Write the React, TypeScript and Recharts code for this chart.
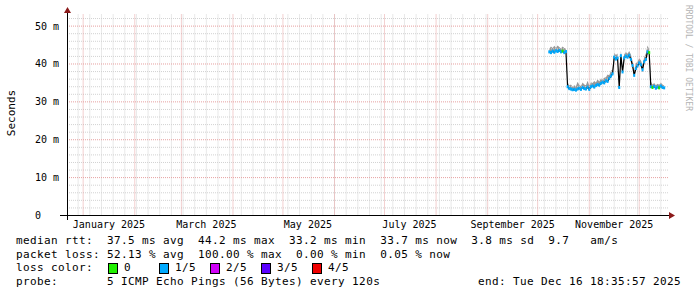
import React from "react";
import {
  Area,
  ComposedChart,
  Line,
  ReferenceLine,
  XAxis,
  YAxis,
} from "recharts";

// days counted from Jan 1 2025
const firstDay = 280;
const medianMs = [
  43.2, 43.0, 43.4, 43.1, 43.5, 43.3, 43.6, 43.2, 43.4, 43.0, 43.3,
  34.0, 33.5, 33.4, 33.2, 33.3, 33.1, 33.4, 33.6, 33.3, 33.8, 33.5, 33.4, 33.9, 33.3,
  34.0, 34.2, 33.9, 34.3, 34.6, 34.4, 34.9, 35.2, 35.0, 35.6, 35.4, 36.2, 36.8, 37.4,
  41.8, 41.3, 41.6, 33.8, 42.2, 37.9, 41.6, 42.1, 41.8, 42.3, 41.2, 39.6, 37.0, 38.8,
  39.5, 40.3, 39.8, 38.5, 40.6, 41.2, 43.2, 43.0,
  34.0, 33.8, 34.1, 33.6, 33.9, 33.7, 34.2, 33.8, 33.7,
];
const smokeHighMs = [
  44.0, 44.6, 44.2, 44.8, 44.3, 44.9, 44.5, 44.1, 44.6, 44.2, 44.0,
  35.2, 34.3, 34.6, 34.0, 34.4, 34.1, 35.3, 34.5, 34.2, 35.1, 34.6, 34.4, 35.6, 34.3,
  35.2, 35.0, 35.5, 35.1, 36.0, 35.4, 36.2, 36.0, 36.4, 36.5, 37.2, 37.0, 38.2, 38.5,
  43.0, 42.4, 42.8, 35.0, 43.5, 39.5, 42.6, 43.2, 42.7, 43.4, 42.5, 40.8, 38.2, 40.2,
  40.6, 41.5, 41.0, 39.8, 41.8, 42.8, 44.9, 43.9,
  35.4, 34.6, 35.0, 34.4, 34.8, 34.5, 35.1, 34.6, 34.3,
];
const smokeLowMs = [
  42.9, 42.7, 43.1, 42.8, 43.2, 43.0, 43.3, 42.9, 43.1, 42.7, 43.0,
  33.7, 33.2, 33.1, 32.9, 33.0, 32.8, 33.1, 33.3, 33.0, 33.5, 33.2, 33.1, 33.6, 33.0,
  33.7, 33.9, 33.6, 34.0, 34.3, 34.1, 34.6, 34.9, 34.7, 35.3, 35.1, 35.9, 36.5, 37.1,
  41.5, 41.0, 41.3, 33.5, 41.9, 37.6, 41.3, 41.8, 41.5, 42.0, 40.9, 39.3, 36.7, 38.5,
  39.2, 40.0, 39.5, 38.2, 40.3, 40.9, 42.9, 42.7,
  33.7, 33.5, 33.8, 33.3, 33.6, 33.4, 33.9, 33.5, 33.4,
];
// loss level per sample: 0 = no loss, 1 = 1/5 ...
const lossLevel = [
  1, 1, 1, 1, 1, 1, 1, 1, 0, 1, 1,
  1, 1, 1, 1, 1, 1, 1, 1, 1, 1, 1, 1, 1, 1,
  1, 1, 1, 1, 1, 1, 1, 1, 1, 1, 1, 1, 1, 1,
  1, 1, 1, 1, 1, 1, 1, 1, 1, 1, 1, 1, 1, 1,
  1, 1, 1, 1, 1, 1, 1, 0,
  1, 0, 1, 1, 1, 0, 1, 1, 1,
];
const lossColors = ["#20f000", "#00aaff", "#d000f8", "#5a00ff", "#f00000"];
const lossLabels = ["0", "1/5", "2/5", "3/5", "4/5"];

const monthStarts = [0, 31, 59, 90, 120, 151, 181, 212, 243, 273, 304, 334];
const weekLines = [-3, 4, 11, 18, 25, 32, 39, 46, 53, 60, 67, 74, 81, 88, 95, 102, 109, 116, 123, 130, 137, 144, 151, 158, 165, 172, 179, 186, 193, 200, 207, 214, 221, 228, 235, 242, 249, 256, 263, 270, 277, 284, 291, 298, 305, 312, 319, 326, 333, 340, 347];
const xLabelDays = [15.5, 74, 135, 196, 258, 319];
const xLabels = ["January 2025", "March 2025", "May 2025", "July 2025", "September 2025", "November 2025"];
const yMajor = [10, 20, 30, 40, 50];
const yMinor = [2, 4, 6, 8, 12, 14, 16, 18, 22, 24, 26, 28, 32, 34, 36, 38, 42, 44, 46, 48, 52];
const yTicks = [0, 10, 20, 30, 40, 50];
const yTickLabels = ["0", "10 m", "20 m", "30 m", "40 m", "50 m"];

const data = medianMs.map((m, i) => ({
  day: firstDay + i,
  median: m,
  smoke: [smokeLowMs[i], smokeHighMs[i]],
  loss: lossLevel[i],
}));

const mono = "'DejaVu Sans Mono', monospace";
const minorColor = "#d2d2d2";
const majorColor = "#e6a0a0";
const arrowColor = "#8b1a1a";

function LossDot(props: any) {
  const { cx, cy, index } = props;
  if (cx == null || cy == null) return null;
  return (
    <rect
      key={`d${index}`}
      x={cx - 1}
      y={cy - 1.5}
      width={2}
      height={3}
      fill={lossColors[lossLevel[index]]}
    />
  );
}

function XTick(props: any) {
  const { x, payload } = props;
  const i = xLabelDays.indexOf(payload.value);
  return (
    <text x={x} y={224} textAnchor="middle" dominantBaseline="central" fontFamily={mono} fontSize={10} fill="#000" stroke="none">
      {xLabels[i]}
    </text>
  );
}

function YTick(props: any) {
  const { y, payload } = props;
  const i = yTicks.indexOf(payload.value);
  return (
    <text x={35} y={y} textAnchor="start" dominantBaseline="central" fontFamily={mono} fontSize={10} fill="#000" stroke="none">
      {yTickLabels[i]}
    </text>
  );
}

const legendRows = [
  "median rtt:  37.5 ms avg  44.2 ms max  33.2 ms min  33.7 ms now  3.8 ms sd  9.7   am/s",
  "packet loss: 52.13 % avg  100.00 % max  0.00 % min  0.05 % now",
];

const textStyle: React.CSSProperties = {
  position: "absolute",
  fontFamily: mono,
  fontSize: 11,
  letterSpacing: 0.38,
  lineHeight: "14px",
  whiteSpace: "pre",
  color: "#000",
};

export default function App() {
  return (
    <div style={{ position: "absolute", left: 0, top: 0, width: 697, height: 297, background: "#fff" }}>
      <ComposedChart
        width={697}
        height={297}
        data={data}
        margin={{ top: 14, right: 29, left: 17, bottom: 61.5 }}
      >
        <XAxis
          dataKey="day"
          type="number"
          domain={[-9.7, 351.3]}
          ticks={xLabelDays}
          tick={<XTick />}
          tickLine={false}
          axisLine={false}
          height={20}
          allowDataOverflow
        />
        <YAxis
          type="number"
          domain={[0, 53.2]}
          ticks={yTicks}
          tick={<YTick />}
          tickLine={false}
          axisLine={false}
          width={50}
          allowDataOverflow
        />
        {weekLines.map((d) => (
          <ReferenceLine key={`w${d}`} x={d} stroke={minorColor} strokeDasharray="1 1" />
        ))}
        {yMinor.map((v) => (
          <ReferenceLine key={`m${v}`} y={v} stroke={minorColor} strokeDasharray="1 1" />
        ))}
        {monthStarts.map((d) => (
          <ReferenceLine key={`M${d}`} x={d} stroke={majorColor} strokeDasharray="1 1" />
        ))}
        {yMajor.map((v) => (
          <ReferenceLine key={`Y${v}`} y={v} stroke={majorColor} strokeDasharray="1 1" />
        ))}
        <Area
          dataKey="smoke"
          stroke="none"
          fill="#999999"
          fillOpacity={1}
          isAnimationActive={false}
        />
        <Line
          dataKey="median"
          stroke="#000"
          strokeWidth={1.2}
          dot={<LossDot />}
          activeDot={false}
          isAnimationActive={false}
        />
      </ComposedChart>

      <svg width={697} height={297} style={{ position: "absolute", left: 0, top: 0, pointerEvents: "none" }}>
        <line x1={60} y1={215.5} x2={670} y2={215.5} stroke="#000" strokeWidth={1} />
        <line x1={67.5} y1={220} x2={67.5} y2={11} stroke="#000" strokeWidth={1} />
        <polygon points="669,212 675,215.5 669,219" fill={arrowColor} />
        <polygon points="64,13 67.5,7 71,13" fill={arrowColor} />
        <text
          x={11}
          y={113}
          transform="rotate(-90 11 113)"
          textAnchor="middle"
          dominantBaseline="central"
          fontFamily={mono}
          fontSize={11}
          fill="#000"
        >
          Seconds
        </text>
        <text
          x={688}
          y={5}
          transform="rotate(90 688 5)"
          textAnchor="start"
          dominantBaseline="central"
          fontFamily={mono}
          fontSize={8}
          fill="#b4b4b4"
        >
          RRDTOOL / TOBI OETIKER
        </text>
      </svg>

      {legendRows.map((row, i) => (
        <div key={row} style={{ ...textStyle, left: 16, top: 234 + i * 14 }}>
          {row}
        </div>
      ))}
      <div style={{ ...textStyle, left: 16, top: 261 }}>loss color:</div>
      {lossLabels.map((lab, i) => (
        <div key={lab} style={{ ...textStyle, left: 108 + i * 51, top: 261, display: "flex", alignItems: "center" }}>
          <span
            style={{
              display: "inline-block",
              width: 8,
              height: 9,
              background: lossColors[i],
              border: "1px solid #000",
              marginRight: 6,
            }}
          />
          {lab}
        </div>
      ))}
      <div style={{ ...textStyle, left: 16, top: 275 }}>
        {"probe:       5 ICMP Echo Pings (56 Bytes) every 120s"}
      </div>
      <div style={{ ...textStyle, right: 16, top: 275 }}>end: Tue Dec 16 18:35:57 2025</div>
    </div>
  );
}
